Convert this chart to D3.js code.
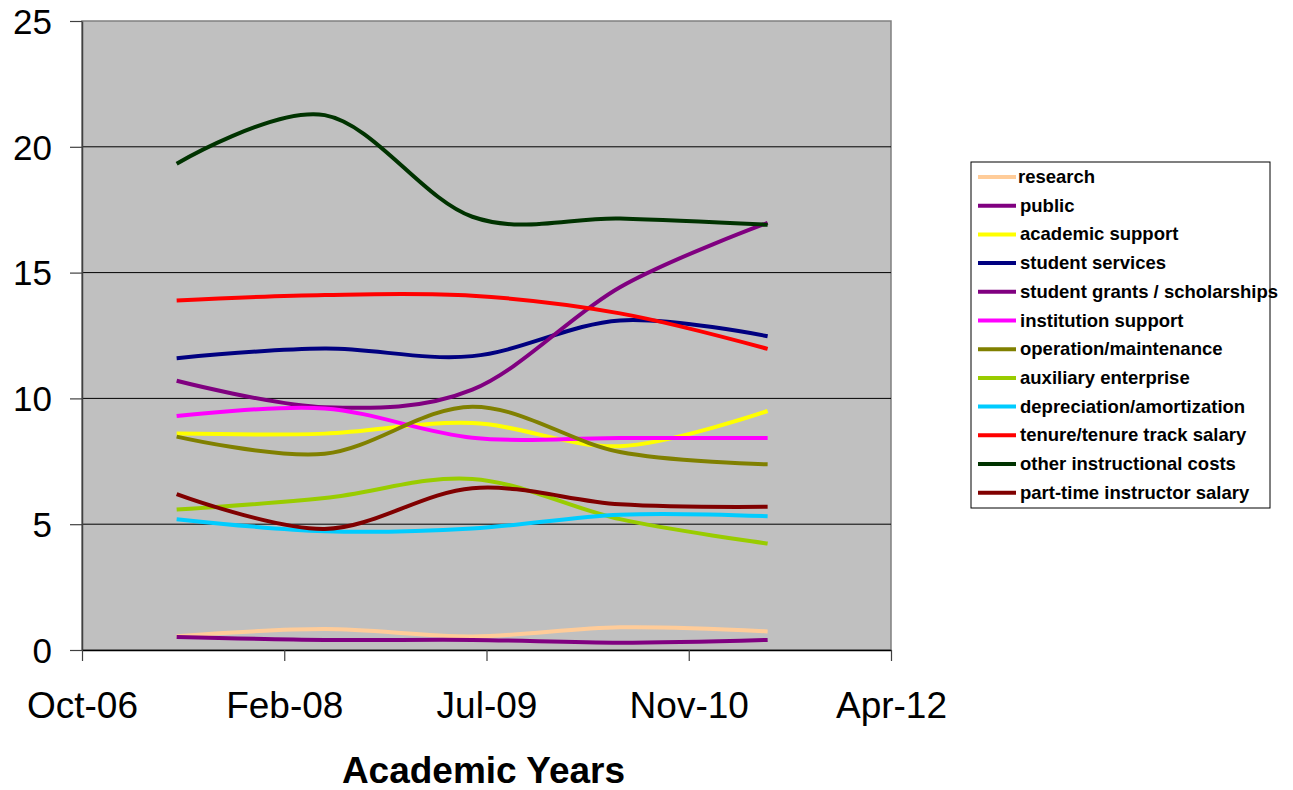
<!DOCTYPE html>
<html>
<head>
<meta charset="utf-8">
<script src="https://cdn.jsdelivr.net/npm/d3@7"></script>
<style>
  html, body { margin: 0; padding: 0; background: #ffffff; }
  svg { display: block; font-family: "Liberation Sans", Arial, sans-serif; }
</style>
</head>
<body>
<svg id="chart" width="1293" height="790"></svg>
<script>
// Academic years (one observation each June)
const yearDates = ["2007-06-01", "2008-06-01", "2009-06-01", "2010-06-01", "2011-06-01"];

// Expense categories (percent of total)
const seriesNames = [
  "research",
  "public",
  "academic support",
  "student services",
  "student grants / scholarships",
  "institution support",
  "operation/maintenance",
  "auxiliary enterprise",
  "depreciation/amortization",
  "tenure/tenure track salary",
  "other instructional costs",
  "part-time instructor salary"
];

const research            = [0.55, 0.83, 0.54, 0.90, 0.74];
const publicService       = [0.52, 0.40, 0.40, 0.29, 0.40];
const academicSupport     = [8.60, 8.60, 9.02, 8.10, 9.50];
const studentServices     = [11.60, 11.98, 11.68, 13.10, 12.47];
const studentGrants       = [10.70, 9.65, 10.35, 14.42, 16.98];
const institutionSupport  = [9.30, 9.60, 8.44, 8.43, 8.43];
const operationMaint      = [8.48, 7.80, 9.67, 7.87, 7.38];
const auxiliaryEnterprise = [5.58, 6.04, 6.80, 5.20, 4.23];
const depreciation        = [5.20, 4.72, 4.83, 5.38, 5.32];
const tenureSalary        = [13.89, 14.11, 14.08, 13.38, 11.97];
const otherInstructional  = [19.33, 21.26, 17.22, 17.15, 16.90];
const partTimeSalary      = [6.20, 4.81, 6.43, 5.79, 5.69];

const seriesValues = [
  research, publicService, academicSupport, studentServices, studentGrants,
  institutionSupport, operationMaint, auxiliaryEnterprise, depreciation,
  tenureSalary, otherInstructional, partTimeSalary
];

const seriesColors = [
  "#FFCC99", "#800080", "#FFFF00", "#000080", "#800080", "#FF00FF",
  "#808000", "#99CC00", "#00CCFF", "#FF0000", "#003300", "#800000"
];

// Axis: date range with a tick every 500 days
const axisStart = "2006-10-10";
const axisTickStepDays = 500;
const axisTickCount = 5;
const yTickValues = [0, 5, 10, 15, 20, 25];
const xAxisTitle = "Academic Years";

const parse = d3.utcParse("%Y-%m-%d");
const start = parse(axisStart);
const xTicks = d3.range(axisTickCount).map(i => d3.utcDay.offset(start, i * axisTickStepDays));

const plot = { left: 82, top: 21, right: 891, bottom: 650 };

const svg = d3.select("#chart");

const x = d3.scaleUtc()
  .domain([xTicks[0], xTicks[xTicks.length - 1]])
  .range([plot.left, plot.right]);

const y = d3.scaleLinear()
  .domain([0, 25])
  .range([plot.bottom, plot.top]);

// Plot background
svg.append("rect")
  .attr("x", plot.left).attr("y", plot.top)
  .attr("width", plot.right - plot.left).attr("height", plot.bottom - plot.top)
  .attr("fill", "#C0C0C0")
  .attr("stroke", "#808080").attr("stroke-width", 1.5);

// Horizontal gridlines
svg.append("g")
  .selectAll("line")
  .data(yTickValues.filter(v => v > 0 && v < 25))
  .join("line")
  .attr("x1", plot.left).attr("x2", plot.right)
  .attr("y1", d => y(d)).attr("y2", d => y(d))
  .attr("stroke", "#000").attr("stroke-width", 1);

// Y axis
const yAxis = svg.append("g")
  .attr("transform", `translate(${plot.left},0)`)
  .call(d3.axisLeft(y).tickValues(yTickValues).tickSize(12).tickPadding(18).tickSizeOuter(0));
yAxis.select(".domain").attr("stroke", "#404040").attr("stroke-width", 1.5);
yAxis.selectAll(".tick line").attr("stroke", "#404040").attr("stroke-width", 1.2);
yAxis.selectAll(".tick text")
  .attr("font-family", "Liberation Sans, Arial, sans-serif")
  .attr("font-size", 35).attr("fill", "#000").attr("dy", "0.35em");

// X axis
const xAxis = svg.append("g")
  .attr("transform", `translate(0,${plot.bottom})`)
  .call(d3.axisBottom(x).tickValues(xTicks).tickFormat(d3.utcFormat("%b-%y"))
    .tickSize(11).tickSizeOuter(0));
xAxis.select(".domain").attr("stroke", "#000").attr("stroke-width", 1.5);
xAxis.selectAll(".tick line").attr("stroke", "#404040").attr("stroke-width", 1.2);
xAxis.selectAll(".tick text")
  .attr("font-family", "Liberation Sans, Arial, sans-serif")
  .attr("font-size", 37).attr("fill", "#000")
  .attr("y", 68).attr("dy", "0");

// X axis title
svg.append("text")
  .attr("x", (plot.left + plot.right) / 2 - 3)
  .attr("y", 783)
  .attr("text-anchor", "middle")
  .attr("font-size", 37).attr("font-weight", "bold")
  .text(xAxisTitle);

// Smoothed series lines
const dates = yearDates.map(parse);
const line = d3.line()
  .x((d, i) => x(dates[i]))
  .y(d => y(d))
  .curve(d3.curveCardinal.tension(0));

svg.append("g")
  .selectAll("path")
  .data(seriesValues)
  .join("path")
  .attr("d", d => line(d))
  .attr("fill", "none")
  .attr("stroke", (d, i) => seriesColors[i])
  .attr("stroke-width", 4)
  .attr("stroke-linejoin", "round");

// Legend
const legend = svg.append("g");
legend.append("rect")
  .attr("x", 971).attr("y", 162).attr("width", 299).attr("height", 346)
  .attr("fill", "#fff").attr("stroke", "#000").attr("stroke-width", 1);

const rowY = i => 177 + i * 28.7;
const rows = legend.selectAll("g.row")
  .data(seriesNames)
  .join("g")
  .attr("class", "row")
  .attr("transform", (d, i) => `translate(0,${rowY(i)})`);

rows.append("line")
  .attr("x1", 978).attr("x2", 1016)
  .attr("y1", 0).attr("y2", 0)
  .attr("stroke", (d, i) => seriesColors[i])
  .attr("stroke-width", 4);

rows.append("text")
  .attr("x", (d, i) => i === 0 ? 1018 : 1020)
  .attr("y", 6)
  .attr("font-size", 18.5).attr("font-weight", "bold").attr("fill", "#000")
  .text(d => d);
</script>
</body>
</html>
